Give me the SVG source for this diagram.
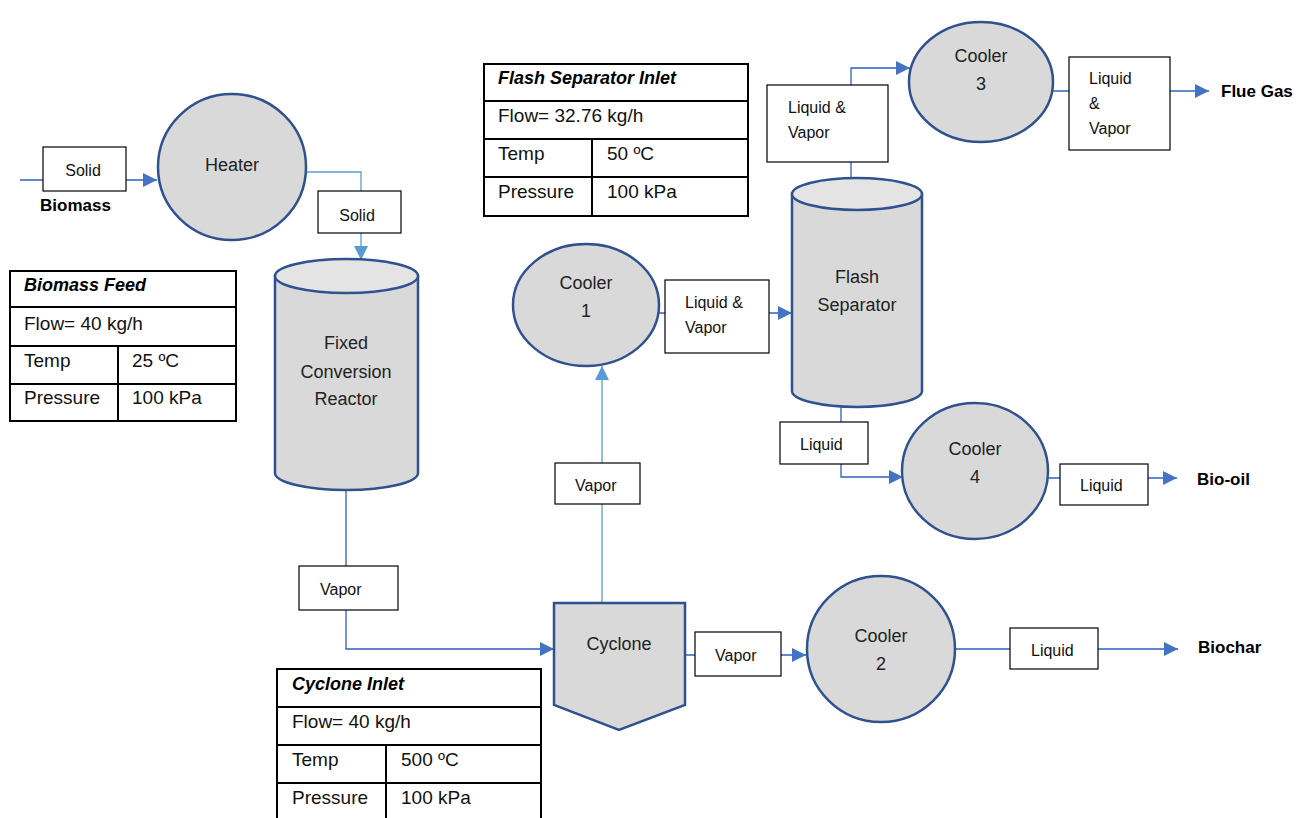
<svg xmlns="http://www.w3.org/2000/svg" width="1311" height="818" viewBox="0 0 1311 818">
<style>
.unit{fill:#D9D9D9;stroke:#2F528F;stroke-width:2.5}
.top{fill:#E4E4E4;stroke:#2F528F;stroke-width:2.5}
.box{fill:#fff;stroke:#000;stroke-width:1.2}
.tb{fill:#fff;stroke:#000;stroke-width:2}
.ln{fill:none;stroke:#2F5FBF;stroke-width:1.3}
.ln2{fill:none;stroke:#5B9BD5;stroke-width:1.3}
.t{font-family:"Liberation Sans",Arial,sans-serif;font-size:18px;fill:#222}
.s{font-family:"Liberation Sans",Arial,sans-serif;font-size:16px;fill:#111}
.b{font-family:"Liberation Sans",Arial,sans-serif;font-size:17px;font-weight:bold;fill:#000}
.tt{font-family:"Liberation Sans",Arial,sans-serif;font-size:19px;fill:#111}
.th{font-family:"Liberation Sans",Arial,sans-serif;font-size:18px;font-weight:bold;font-style:italic;fill:#000}
</style>
<defs>
<marker id="a" markerUnits="userSpaceOnUse" markerWidth="14" markerHeight="14" refX="14" refY="7" orient="auto"><path d="M0,0 L14,7 L0,14 Z" fill="#4472C4"/></marker>
<marker id="a2" markerUnits="userSpaceOnUse" markerWidth="14" markerHeight="14" refX="14" refY="7" orient="auto"><path d="M0,0 L14,7 L0,14 Z" fill="#5B9BD5"/></marker>
</defs>
<g id="connectors">
<path class="ln" d="M20,180 H157" marker-end="url(#a)"/>
<path class="ln2" d="M306,172 H361 V260" marker-end="url(#a2)"/>
<path class="ln" d="M346,490 V649 H554" marker-end="url(#a)"/>
<path class="ln2" d="M602,603 V366" marker-end="url(#a2)"/>
<path class="ln" d="M658,313 H792" marker-end="url(#a)"/>
<path class="ln" d="M851,177 V68 H910" marker-end="url(#a)"/>
<path class="ln" d="M1053,91 H1209" marker-end="url(#a)"/>
<path class="ln" d="M841,407 V477 H903" marker-end="url(#a)"/>
<path class="ln" d="M1048,478 H1177" marker-end="url(#a)"/>
<path class="ln" d="M685,655 H806" marker-end="url(#a)"/>
<path class="ln" d="M955,649 H1178" marker-end="url(#a)"/>
</g>
<g id="heater">
<ellipse class="unit" cx="232" cy="167" rx="74" ry="73"/>
<text class="t" x="232" y="171" text-anchor="middle">Heater</text>
</g>
<g id="label-solid1">
<rect class="box" x="43" y="147" width="83" height="44"/>
<text class="s" x="83" y="176" text-anchor="middle">Solid</text>
</g>
<g id="label-biomass"><text class="b" x="40" y="211">Biomass</text></g>
<g id="label-solid2">
<rect class="box" x="318" y="191" width="83" height="42"/>
<text class="s" x="357" y="221" text-anchor="middle">Solid</text>
</g>
<g id="reactor">
<path class="unit" d="M275,276 V473 A71.5,17 0 0 0 418,473 V276 Z"/>
<ellipse class="top" cx="346.5" cy="276" rx="71.5" ry="17"/>
<text class="t" x="346" y="349" text-anchor="middle">Fixed</text>
<text class="t" x="346" y="378" text-anchor="middle">Conversion</text>
<text class="t" x="346" y="405" text-anchor="middle">Reactor</text>
</g>
<g id="table-biomass-feed">
<rect class="tb" x="10" y="271" width="226" height="150"/>
<path d="M10,307 H236 M10,346 H236 M10,384 H236 M118,346 V421" stroke="#000" stroke-width="2"/>
<text class="th" x="24" y="291">Biomass Feed</text>
<text class="tt" x="24" y="330">Flow= 40 kg/h</text>
<text class="tt" x="24" y="367">Temp</text>
<text class="tt" x="132" y="367">25 ºC</text>
<text class="tt" x="24" y="404">Pressure</text>
<text class="tt" x="132" y="404">100 kPa</text>
</g>
<g id="label-vapor1">
<rect class="box" x="299" y="566" width="99" height="44"/>
<text class="s" x="320" y="595">Vapor</text>
</g>
<g id="cyclone">
<path class="unit" d="M554,603 H685 V705 L619,730 L554,705 Z"/>
<text class="t" x="619" y="650" text-anchor="middle">Cyclone</text>
</g>
<g id="table-cyclone-inlet">
<rect class="tb" x="277" y="669" width="264" height="152"/>
<path d="M277,707 H541 M277,745 H541 M277,783 H541 M386,745 V821" stroke="#000" stroke-width="2"/>
<text class="th" x="292" y="690">Cyclone Inlet</text>
<text class="tt" x="292" y="728">Flow= 40 kg/h</text>
<text class="tt" x="292" y="766">Temp</text>
<text class="tt" x="401" y="766">500 ºC</text>
<text class="tt" x="292" y="804">Pressure</text>
<text class="tt" x="401" y="804">100 kPa</text>
</g>
<g id="label-vapor2">
<rect class="box" x="555" y="463" width="85" height="41"/>
<text class="s" x="575" y="491">Vapor</text>
</g>
<g id="cooler1">
<ellipse class="unit" cx="586" cy="305" rx="73" ry="61"/>
<text class="t" x="586" y="289" text-anchor="middle">Cooler</text>
<text class="t" x="586" y="317" text-anchor="middle">1</text>
</g>
<g id="label-lv1">
<rect class="box" x="665" y="280" width="104" height="73"/>
<text class="s" x="685" y="308">Liquid &amp;</text>
<text class="s" x="685" y="333">Vapor</text>
</g>
<g id="flash-separator">
<path class="unit" d="M792,194 V391 A65,16 0 0 0 922,391 V194 Z"/>
<ellipse class="top" cx="857" cy="194" rx="65" ry="16"/>
<text class="t" x="857" y="283" text-anchor="middle">Flash</text>
<text class="t" x="857" y="311" text-anchor="middle">Separator</text>
</g>
<g id="table-flash-inlet">
<rect class="tb" x="484" y="64" width="264" height="152"/>
<path d="M484,101 H748 M484,139 H748 M484,177 H748 M592,139 V216" stroke="#000" stroke-width="2"/>
<text class="th" x="498" y="84">Flash Separator Inlet</text>
<text class="tt" x="498" y="122">Flow= 32.76 kg/h</text>
<text class="tt" x="498" y="160">Temp</text>
<text class="tt" x="607" y="160">50 ºC</text>
<text class="tt" x="498" y="198">Pressure</text>
<text class="tt" x="607" y="198">100 kPa</text>
</g>
<g id="label-lv2">
<rect class="box" x="767" y="85" width="121" height="77"/>
<text class="s" x="788" y="113">Liquid &amp;</text>
<text class="s" x="788" y="138">Vapor</text>
</g>
<g id="cooler3">
<ellipse class="unit" cx="981" cy="82" rx="72" ry="60"/>
<text class="t" x="981" y="62" text-anchor="middle">Cooler</text>
<text class="t" x="981" y="90" text-anchor="middle">3</text>
</g>
<g id="label-lv3">
<rect class="box" x="1069" y="57" width="101" height="93"/>
<text class="s" x="1089" y="84">Liquid</text>
<text class="s" x="1089" y="109">&amp;</text>
<text class="s" x="1089" y="134">Vapor</text>
</g>
<g id="label-fluegas"><text class="b" x="1221" y="97">Flue Gas</text></g>
<g id="label-liquid1">
<rect class="box" x="780" y="422" width="88" height="42"/>
<text class="s" x="800" y="450">Liquid</text>
</g>
<g id="cooler4">
<ellipse class="unit" cx="975" cy="471" rx="73" ry="68"/>
<text class="t" x="975" y="455" text-anchor="middle">Cooler</text>
<text class="t" x="975" y="483" text-anchor="middle">4</text>
</g>
<g id="label-liquid2">
<rect class="box" x="1060" y="464" width="88" height="41"/>
<text class="s" x="1080" y="491">Liquid</text>
</g>
<g id="label-biooil"><text class="b" x="1197" y="485">Bio-oil</text></g>
<g id="label-vapor3">
<rect class="box" x="695" y="632" width="86" height="44"/>
<text class="s" x="715" y="661">Vapor</text>
</g>
<g id="cooler2">
<ellipse class="unit" cx="881" cy="649" rx="74" ry="73"/>
<text class="t" x="881" y="642" text-anchor="middle">Cooler</text>
<text class="t" x="881" y="670" text-anchor="middle">2</text>
</g>
<g id="label-liquid3">
<rect class="box" x="1010" y="628" width="88" height="41"/>
<text class="s" x="1031" y="656">Liquid</text>
</g>
<g id="label-biochar"><text class="b" x="1198" y="653">Biochar</text></g>
</svg>
